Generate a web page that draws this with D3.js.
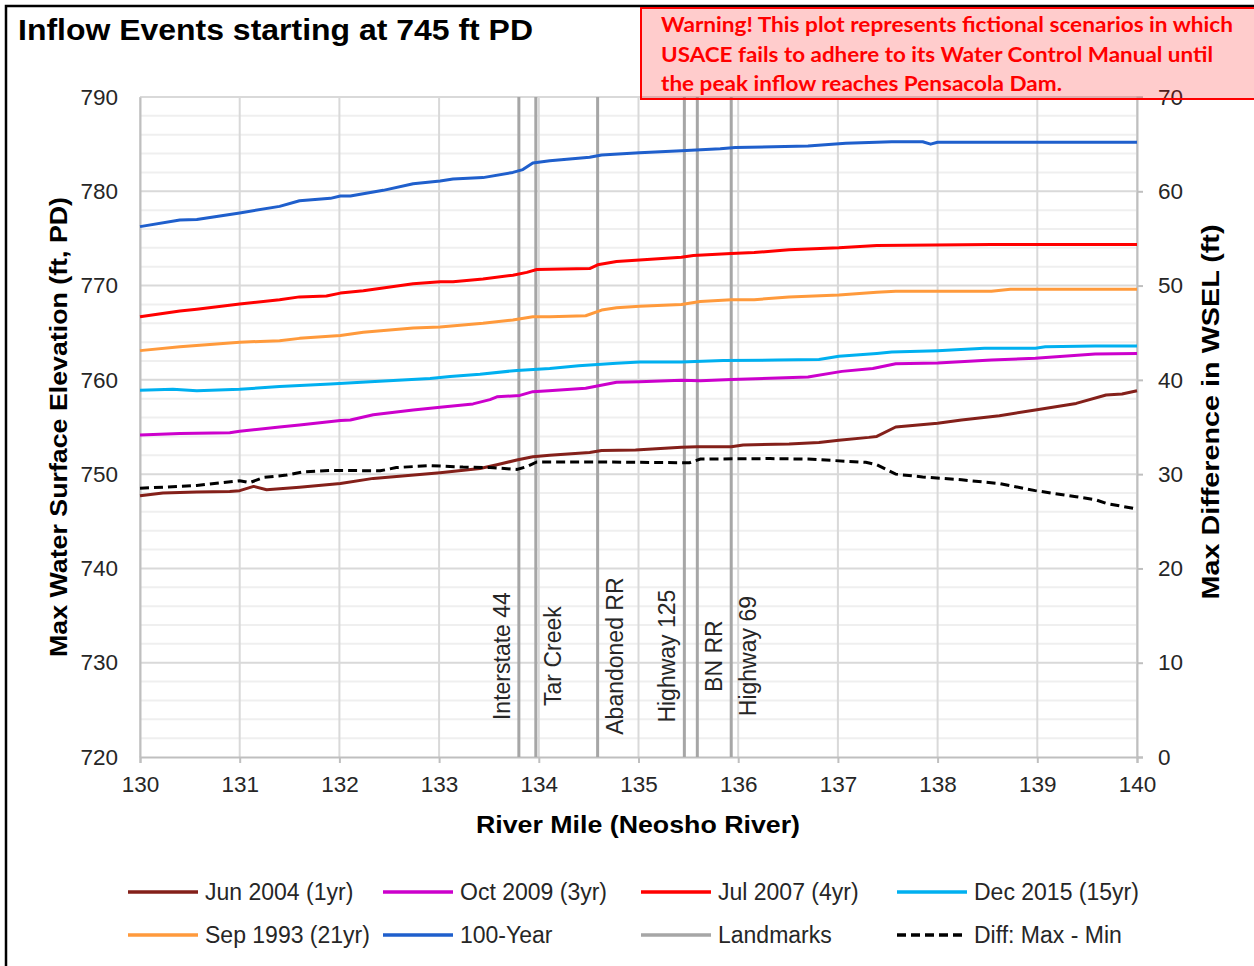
<!DOCTYPE html>
<html>
<head>
<meta charset="utf-8">
<script src="https://cdn.jsdelivr.net/npm/d3@7"></script>
<style>
  body { margin: 0; background: #fff; }
  svg { display: block; font-family: "Liberation Sans", Arial, sans-serif; }
</style>
</head>
<body>
<div id="chart"></div>
<script>
// River mile vs max water surface elevation (ft, PD)
var jun2004 = [[130.0,747.7],[130.23,748.0],[130.57,748.1],[130.9,748.15],[131.0,748.25],[131.14,748.7],[131.27,748.35],
  [131.6,748.6],[132.01,749.0],[132.34,749.55],[133.01,750.15],[133.41,750.6],[133.58,751.0],[133.78,751.5],[133.94,751.85],
  [134.11,752.0],[134.51,752.3],[134.63,752.5],[134.97,752.55],[135.43,752.85],[135.59,752.9],[135.93,752.9],[136.05,753.1],
  [136.51,753.2],[136.81,753.35],[137.01,753.6],[137.31,753.9],[137.39,754.0],[137.58,755.0],[138.0,755.4],[138.24,755.75],
  [138.62,756.2],[138.98,756.8],[139.39,757.5],[139.69,758.4],[139.85,758.5],[140.0,758.85]];
var oct2009 = [[130.0,754.15],[130.4,754.3],[130.9,754.4],[131.0,754.55],[131.4,755.0],[131.6,755.2],[132.01,755.7],[132.11,755.75],
  [132.34,756.3],[132.74,756.8],[133.01,757.1],[133.34,757.45],[133.51,757.9],[133.58,758.2],[133.81,758.35],[133.94,758.75],
  [134.1,758.85],[134.47,759.1],[134.78,759.75],[135.01,759.8],[135.43,759.95],[135.62,759.9],[135.93,760.05],[136.7,760.3],
  [137.04,760.9],[137.35,761.2],[137.58,761.7],[138.0,761.8],[138.54,762.1],[138.98,762.3],[139.58,762.75],[140.0,762.8]];
var jul2007 = [[130.0,766.7],[130.4,767.3],[130.57,767.5],[131.0,768.05],[131.4,768.5],[131.6,768.8],[131.87,768.9],[132.01,769.2],
  [132.24,769.45],[132.74,770.2],[133.01,770.4],[133.14,770.4],[133.44,770.7],[133.74,771.1],[133.88,771.4],[133.98,771.7],
  [134.51,771.8],[134.59,772.2],[134.78,772.55],[135.01,772.7],[135.43,773.0],[135.55,773.2],[135.93,773.4],[136.16,773.5],
  [136.51,773.8],[137.01,774.0],[137.39,774.25],[138.54,774.35],[140.0,774.35]];
var dec2015 = [[130.0,758.9],[130.33,759.0],[130.57,758.85],[131.0,759.0],[131.4,759.3],[131.91,759.55],[132.31,759.8],[132.91,760.15],
  [133.11,760.35],[133.41,760.6],[133.78,761.0],[134.11,761.2],[134.4,761.5],[134.78,761.75],[135.01,761.9],[135.43,761.9],
  [135.85,762.05],[136.39,762.1],[136.81,762.15],[137.01,762.5],[137.39,762.8],[137.54,762.95],[138.0,763.1],[138.47,763.35],
  [138.98,763.35],[139.08,763.5],[139.58,763.6],[140.0,763.6]];
var sep1993 = [[130.0,763.1],[130.4,763.5],[131.0,764.0],[131.4,764.15],[131.6,764.4],[132.01,764.7],[132.24,765.05],[132.74,765.5],
  [133.01,765.6],[133.44,766.0],[133.74,766.35],[133.94,766.7],[134.11,766.7],[134.47,766.8],[134.63,767.4],[134.78,767.65],
  [135.01,767.8],[135.43,768.0],[135.62,768.3],[135.93,768.5],[136.16,768.5],[136.51,768.8],[137.01,769.0],[137.39,769.3],
  [137.58,769.4],[138.54,769.4],[138.73,769.6],[140.0,769.6]];
var year100 = [[130.0,776.25],[130.4,776.95],[130.57,777.0],[131.0,777.7],[131.4,778.4],[131.6,779.0],[131.91,779.25],[132.01,779.5],
  [132.11,779.5],[132.44,780.1],[132.74,780.8],[133.01,781.1],[133.14,781.3],[133.44,781.45],[133.74,782.0],[133.84,782.3],
  [133.94,783.0],[134.11,783.25],[134.51,783.6],[134.63,783.85],[135.01,784.1],[135.43,784.3],[135.82,784.5],[135.97,784.65],
  [136.7,784.8],[137.08,785.1],[137.54,785.25],[137.85,785.25],[137.93,785.0],[138.0,785.2],[140.0,785.2]];
// Max - Min difference (ft), right axis
var diffMaxMin = [[130.0,28.5],[130.57,28.8],[131.0,29.3],[131.1,29.1],[131.24,29.65],[131.47,29.9],[131.64,30.25],[131.91,30.4],
  [132.41,30.35],[132.57,30.7],[132.91,30.9],[133.24,30.75],[133.51,30.7],[133.78,30.5],[133.88,30.8],[133.98,31.3],
  [134.11,31.3],[134.59,31.3],[135.51,31.2],[135.62,31.6],[136.32,31.65],[136.7,31.6],[137.28,31.25],[137.39,31.0],
  [137.58,30.0],[137.85,29.7],[138.24,29.4],[138.62,29.0],[138.98,28.25],[139.39,27.6],[139.58,27.3],[139.69,26.9],[140.0,26.3]];

var landmarkNames = ["Interstate 44", "Tar Creek", "Abandoned RR", "Highway 125", "BN RR", "Highway 69"];
var landmarkMiles = [133.80, 133.97, 134.59, 135.46, 135.59, 135.93];
var landmarkSide = [-1, 1, 1, -1, 1, 1];

var seriesNames = ["Jun 2004 (1yr)", "Oct 2009 (3yr)", "Jul 2007 (4yr)", "Dec 2015 (15yr)", "Sep 1993 (21yr)", "100-Year"];
var seriesColors = ["#84201a", "#cc00cc", "#ff0000", "#00b0f0", "#ff9a3c", "#1f5fcc"];
var seriesData = [jun2004, oct2009, jul2007, dec2015, sep1993, year100];

var warningLines = ["Warning! This plot represents fictional scenarios in which",
  "USACE fails to adhere to its Water Control Manual until",
  "the peak inflow reaches Pensacola Dam."];

var width = 1254, height = 966;
var margin = {top: 97, right: 117, bottom: 209, left: 140};

var svg = d3.select("#chart").append("svg")
  .attr("width", width).attr("height", height);

var x = d3.scaleLinear().domain([130, 140]).range([margin.left, width - margin.right]);
var y = d3.scaleLinear().domain([720, 790]).range([height - margin.bottom, margin.top]);
var y2 = d3.scaleLinear().domain([0, 70]).range([height - margin.bottom, margin.top]);

// frame (only top and left edges visible in the original crop)
svg.append("path").attr("d", "M6,966V6H1254").attr("fill", "none")
  .attr("stroke", "#000").attr("stroke-width", 2.5);

// minor horizontal grid every 2 ft
svg.append("g").selectAll("line").data(d3.range(722, 790, 2).filter(function(d) { return d % 10 != 0; }))
  .enter().append("line")
  .attr("x1", x(130)).attr("x2", x(140))
  .attr("y1", function(d) { return y(d); }).attr("y2", function(d) { return y(d); })
  .attr("stroke", "#efefef").attr("stroke-width", 2);

// major horizontal grid
svg.append("g").selectAll("line").data(d3.range(730, 791, 10))
  .enter().append("line")
  .attr("x1", x(130)).attr("x2", x(140))
  .attr("y1", function(d) { return y(d); }).attr("y2", function(d) { return y(d); })
  .attr("stroke", "#d9d9d9").attr("stroke-width", 2);

// vertical grid each mile
svg.append("g").selectAll("line").data(d3.range(130, 141))
  .enter().append("line")
  .attr("x1", function(d) { return x(d); }).attr("x2", function(d) { return x(d); })
  .attr("y1", y(790)).attr("y2", y(720))
  .attr("stroke", "#d9d9d9").attr("stroke-width", 2);

// axes
var xAxis = svg.append("g")
  .attr("transform", "translate(0," + y(720) + ")")
  .call(d3.axisBottom(x).ticks(10).tickSize(6).tickPadding(13).tickFormat(d3.format("d")));
var yAxis = svg.append("g")
  .attr("transform", "translate(" + x(130) + ",0)")
  .call(d3.axisLeft(y).ticks(7).tickSize(0).tickPadding(22).tickFormat(d3.format("d")));
var y2Axis = svg.append("g")
  .attr("transform", "translate(" + x(140) + ",0)")
  .call(d3.axisRight(y2).ticks(7).tickSize(6).tickPadding(15).tickFormat(d3.format("d")));

[xAxis, yAxis, y2Axis].forEach(function(a) {
  a.select(".domain").attr("stroke", "#bfbfbf").attr("stroke-width", 2);
  a.selectAll(".tick line").attr("stroke", "#bfbfbf").attr("stroke-width", 2);
  a.selectAll(".tick text").attr("fill", "#262626")
    .style("font-family", "'Liberation Sans', Arial, sans-serif").style("font-size", "22.5px");
});

// landmarks
var lm = svg.append("g");
landmarkMiles.forEach(function(m, i) {
  lm.append("line")
    .attr("x1", x(m)).attr("x2", x(m))
    .attr("y1", y(790)).attr("y2", y(720))
    .attr("stroke", "#a6a6a6").attr("stroke-width", 3);
  var tx = x(m) + landmarkSide[i] * 17, ty = y(730.7);
  lm.append("text")
    .attr("transform", "translate(" + tx + "," + ty + ") rotate(-90)")
    .attr("text-anchor", "middle").attr("dy", "0.35em")
    .attr("fill", "#262626").style("font-size", "23px")
    .text(landmarkNames[i]);
});

// series
var line = d3.line()
  .x(function(d) { return x(d[0]); })
  .y(function(d) { return y(d[1]); });
seriesData.forEach(function(s, i) {
  svg.append("path").datum(s)
    .attr("d", line)
    .attr("fill", "none")
    .attr("stroke", seriesColors[i])
    .attr("stroke-width", 3)
    .attr("stroke-linejoin", "round");
});

var line2 = d3.line()
  .x(function(d) { return x(d[0]); })
  .y(function(d) { return y2(d[1]); });
svg.append("path").datum(diffMaxMin)
  .attr("d", line2)
  .attr("fill", "none")
  .attr("stroke", "#000")
  .attr("stroke-width", 3)
  .attr("stroke-dasharray", "9,5");

// titles
svg.append("text").attr("x", 18).attr("y", 40)
  .attr("textLength", 515).attr("lengthAdjust", "spacingAndGlyphs")
  .style("font-size", "29px").style("font-weight", "bold").attr("fill", "#000")
  .text("Inflow Events starting at 745 ft PD");

svg.append("text")
  .attr("transform", "translate(67," + 427 + ") rotate(-90)")
  .attr("text-anchor", "middle")
  .attr("textLength", 460).attr("lengthAdjust", "spacingAndGlyphs")
  .style("font-size", "24px").style("font-weight", "bold").attr("fill", "#000")
  .text("Max Water Surface Elevation (ft, PD)");

svg.append("text")
  .attr("transform", "translate(1219," + 412 + ") rotate(-90)")
  .attr("text-anchor", "middle")
  .attr("textLength", 375).attr("lengthAdjust", "spacingAndGlyphs")
  .style("font-size", "24px").style("font-weight", "bold").attr("fill", "#000")
  .text("Max Difference in WSEL (ft)");

svg.append("text")
  .attr("x", 638).attr("y", 833)
  .attr("text-anchor", "middle")
  .attr("textLength", 324).attr("lengthAdjust", "spacingAndGlyphs")
  .style("font-size", "24px").style("font-weight", "bold").attr("fill", "#000")
  .text("River Mile (Neosho River)");

// legend
var legendItems = seriesNames.map(function(n, i) { return {name: n, color: seriesColors[i], dash: null}; });
legendItems.push({name: "Landmarks", color: "#a6a6a6", dash: null});
legendItems.push({name: "Diff: Max - Min", color: "#000", dash: "9,5"});
// order as in the original: two rows of four
var legendOrder = [0, 1, 2, 3, 4, 5, 6, 7];
var colX = [128, 383, 641, 897], rowY = [892, 935];
legendOrder.forEach(function(k, i) {
  var it = legendItems[k];
  var lx = colX[i % 4], ly = rowY[Math.floor(i / 4)];
  svg.append("line").attr("x1", lx).attr("x2", lx + 70).attr("y1", ly).attr("y2", ly)
    .attr("stroke", it.color).attr("stroke-width", 3.5)
    .attr("stroke-dasharray", it.dash);
  svg.append("text").attr("x", lx + 77).attr("y", ly).attr("dy", "0.35em")
    .attr("fill", "#262626").style("font-size", "23px")
    .text(it.name);
});

// warning box
svg.append("rect").attr("x", 641).attr("y", 8).attr("width", 640).attr("height", 91)
  .attr("fill", "#ff0000").attr("fill-opacity", 0.2)
  .attr("stroke", "#ff0000").attr("stroke-width", 2);
var wl = [572, 552, 401];
warningLines.forEach(function(t, i) {
  svg.append("text").attr("x", 661).attr("y", 32 + i * 29.5)
    .attr("textLength", wl[i]).attr("lengthAdjust", "spacingAndGlyphs")
    .attr("fill", "#ff0000")
    .style("font-family", "Lato, 'Open Sans', sans-serif").style("font-weight", "bold").style("font-size", "20px")
    .text(t);
});
</script>
</body>
</html>
